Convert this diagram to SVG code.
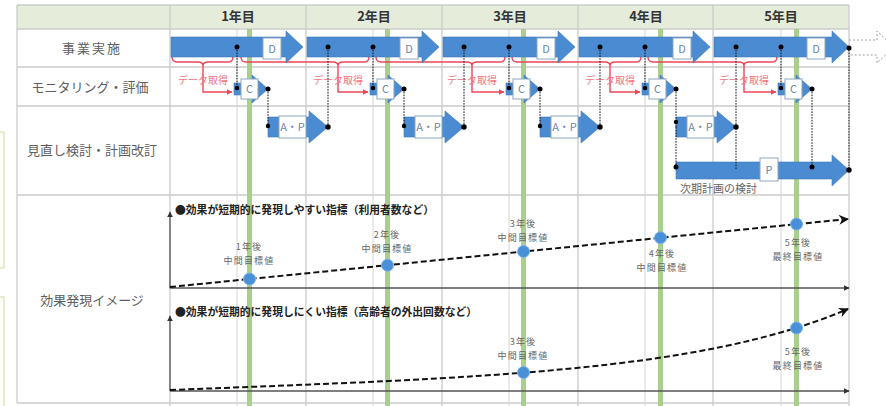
<svg xmlns="http://www.w3.org/2000/svg" width="886" height="406" viewBox="0 0 886 406">
<defs>
<style>
text{font-family:"Noto Sans CJK JP","Noto Sans",sans-serif}
.grid{stroke:#cccccc;stroke-width:1.3;fill:none}
.mid{stroke:#d6d6d6;stroke-width:1;fill:none}
.green{fill:#a9cf8c}
.blue{fill:#4a8bd1;stroke:#3f78b8;stroke-width:0.6}
.box{fill:#ffffff;stroke:#8ea6bf;stroke-width:1}
.blbl{font-size:11px;fill:#6f86a3;text-anchor:middle}
.row{font-size:13px;fill:#5e5e5e;text-anchor:middle}
.hdr{font-size:13px;font-weight:bold;fill:#333;text-anchor:middle}
.red{stroke:#ec4659;stroke-width:1.4;fill:none}
.redt{font-size:10px;fill:#f07383;text-anchor:middle}
.con{stroke:#111;stroke-width:1;stroke-dasharray:1.6 1.2;fill:none}
.dot{fill:#000}
.axis{stroke:#555;stroke-width:1.3;fill:none}
.dash{stroke:#111;stroke-width:2;stroke-dasharray:6 3;fill:none}
.pt{fill:#4a90d9;stroke:#7fb3e6;stroke-width:1}
.lbl{font-size:9px;fill:#666;text-anchor:middle;letter-spacing:1.2px}
.ttl{font-size:10.8px;font-weight:bold;fill:#222}
</style>
<marker id="ah" viewBox="0 0 10 10" refX="9" refY="5" markerWidth="10" markerHeight="10" markerUnits="userSpaceOnUse" orient="auto">
<path d="M0,0 L10,5 L0,10 L3,5 Z" fill="#111"/>
</marker>
<marker id="ax" viewBox="0 0 10 10" refX="9" refY="5" markerWidth="6" markerHeight="6" markerUnits="userSpaceOnUse" orient="auto">
<path d="M0,0 L10,5 L0,10 Z" fill="#333"/>
</marker>
<marker id="ra" viewBox="0 0 10 10" refX="9" refY="5" markerWidth="6" markerHeight="6" markerUnits="userSpaceOnUse" orient="auto">
<path d="M0,0 L10,5 L0,10 Z" fill="#ec4659"/>
</marker>
</defs>
<rect width="886" height="406" fill="#ffffff"/>
<rect x="-10" y="132" width="14" height="136" fill="#fdfdf6" stroke="#d7e2b4" stroke-width="1.2"/>
<rect x="-10" y="297" width="14" height="120" fill="#fdfdf6" stroke="#d7e2b4" stroke-width="1.2"/>
<g id="table">
<rect x="17" y="5" width="832" height="24" fill="#e5ecda"/>
<path class="mid" d="M237,29V406M373,29V406M509,29V406M645,29V406M781,29V406"/>
<path class="grid" d="M17,5H849M17,29H849M17,67H849M17,106H849M17,195H849M17,403H849"/>
<path class="grid" d="M17,5V403M170,5V406M306,5V406M442,5V406M578,5V406M713,5V406M849,5V406"/>
<text class="hdr" x="238" y="21">1年目</text>
<text class="hdr" x="374" y="21">2年目</text>
<text class="hdr" x="510" y="21">3年目</text>
<text class="hdr" x="646" y="21">4年目</text>
<text class="hdr" x="781" y="21">5年目</text>
<text class="row" x="92" y="53" letter-spacing="2">事業実施</text>
<text class="row" x="90" y="92">モニタリング・評価</text>
<text class="row" x="92" y="155">見直し検討・計画改訂</text>
<text class="row" x="92" y="305">効果発現イメージ</text>
</g>
<g id="greenbars">
<rect class="green" x="247" y="29" width="5" height="377"/>
<rect class="green" x="385" y="29" width="5" height="377"/>
<rect class="green" x="521" y="29" width="5" height="377"/>
<rect class="green" x="658" y="29" width="5" height="377"/>
<rect class="green" x="794" y="29" width="5" height="377"/>
</g>
<path d="M849,40H877V31L894,47L877,63V55H849" fill="none" stroke="#a0a0a0" stroke-width="1" stroke-dasharray="2 2"/>
<g id="data">
<path class="red" d="M172,57Q172,62 177,62H198Q203,62 203,66Q203,62 208,62H228Q233,62 233,57"/>
<path class="red" d="M203,66V92H232" marker-end="url(#ra)"/>
<text class="redt" x="203" y="84">データ取得</text>
<path class="red" d="M241,57Q241,62 246,62H333Q338,62 338,66Q338,62 343,62H364Q369,62 369,57"/>
<path class="red" d="M338,66V92H368" marker-end="url(#ra)"/>
<text class="redt" x="338" y="84">データ取得</text>
<path class="red" d="M376,57Q376,62 381,62H467Q472,62 472,66Q472,62 477,62H500Q505,62 505,57"/>
<path class="red" d="M472,66V92H504" marker-end="url(#ra)"/>
<text class="redt" x="472" y="84">データ取得</text>
<path class="red" d="M512,57Q512,62 517,62H605Q610,62 610,66Q610,62 615,62H636Q641,62 641,57"/>
<path class="red" d="M610,66V92H640" marker-end="url(#ra)"/>
<text class="redt" x="610" y="84">データ取得</text>
<path class="red" d="M648,57Q648,62 653,62H739Q744,62 744,66Q744,62 749,62H772Q777,62 777,57"/>
<path class="red" d="M744,66V92H776" marker-end="url(#ra)"/>
<text class="redt" x="744" y="84">データ取得</text>
</g>
<g id="D1"><path class="blue" d="M171,37H286V31L303,47L286,63V57H171Z"/><rect class="box" x="263" y="38" width="18" height="21"/><text class="blbl" x="272" y="53">D</text></g>
<g id="D2"><path class="blue" d="M307,37H422V31L439,47L422,63V57H307Z"/><rect class="box" x="400" y="38" width="18" height="21"/><text class="blbl" x="409" y="53">D</text></g>
<g id="D3"><path class="blue" d="M443,37H558V31L575,47L558,63V57H443Z"/><rect class="box" x="537" y="38" width="18" height="21"/><text class="blbl" x="546" y="53">D</text></g>
<g id="D4"><path class="blue" d="M579,37H693V31L710,47L693,63V57H579Z"/><rect class="box" x="673" y="38" width="18" height="21"/><text class="blbl" x="682" y="53">D</text></g>
<g id="D5"><path class="blue" d="M714,37H832V31L849,47L832,63V57H714Z"/><rect class="box" x="807" y="38" width="18" height="21"/><text class="blbl" x="816" y="53">D</text></g>
<g id="C1"><path class="blue" d="M234,83H252V75L268,89L252,103V95H234Z"/><rect class="box" x="241" y="79" width="17" height="20"/><text class="blbl" x="249.5" y="93">C</text></g>
<g id="C2"><path class="blue" d="M370,83H388V75L404,89L388,103V95H370Z"/><rect class="box" x="377" y="79" width="17" height="20"/><text class="blbl" x="385.5" y="93">C</text></g>
<g id="C3"><path class="blue" d="M506,83H524V75L540,89L524,103V95H506Z"/><rect class="box" x="513" y="79" width="17" height="20"/><text class="blbl" x="521.5" y="93">C</text></g>
<g id="C4"><path class="blue" d="M642,83H660V75L676,89L660,103V95H642Z"/><rect class="box" x="649" y="79" width="17" height="20"/><text class="blbl" x="657.5" y="93">C</text></g>
<g id="C5"><path class="blue" d="M778,83H796V75L812,89L796,103V95H778Z"/><rect class="box" x="785" y="79" width="17" height="20"/><text class="blbl" x="793.5" y="93">C</text></g>
<g id="AP1"><path class="blue" d="M268,117H309V111L328,127L309,143V137H268Z"/><rect class="box" x="279" y="116" width="27" height="22"/><text class="blbl" x="292.5" y="131" font-size="10">A・P</text></g>
<g id="AP2"><path class="blue" d="M404,117H445V111L464,127L445,143V137H404Z"/><rect class="box" x="415" y="116" width="27" height="22"/><text class="blbl" x="428.5" y="131" font-size="10">A・P</text></g>
<g id="AP3"><path class="blue" d="M540,117H581V111L600,127L581,143V137H540Z"/><rect class="box" x="551" y="116" width="27" height="22"/><text class="blbl" x="564.5" y="131" font-size="10">A・P</text></g>
<g id="AP4"><path class="blue" d="M676,117H717V111L736,127L717,143V137H676Z"/><rect class="box" x="687" y="116" width="27" height="22"/><text class="blbl" x="700.5" y="131" font-size="10">A・P</text></g>
<g id="P"><path class="blue" d="M676,162H832V155L849,170L832,186V179H676Z"/><rect class="box" x="760" y="158" width="18" height="23"/><text class="blbl" x="769" y="174">P</text>
<text x="680" y="193" font-size="11" fill="#666">次期計画の検討</text></g>
<g id="connectors">
<path class="con" d="M237,47V88M373,47V88M509,47V88M645,47V88M781,47V88"/>
<path class="con" d="M268,89V127M404,89V127M540,89V127M676,89V127M812,89V167"/>
<path class="con" d="M328,47V127M464,47V127M600,47V127M736,47V170M676,127V167M849,47V170"/>
<g class="dot">
<circle cx="237" cy="47" r="2.5"/><circle cx="328" cy="47" r="2.5"/><circle cx="373" cy="47" r="2.5"/><circle cx="464" cy="47" r="2.5"/><circle cx="509" cy="47" r="2.5"/><circle cx="600" cy="47" r="2.5"/><circle cx="645" cy="47" r="2.5"/><circle cx="736" cy="47" r="2.5"/><circle cx="781" cy="47" r="2.5"/><circle cx="849" cy="48" r="2.5"/>
<circle cx="237" cy="88" r="2.2"/><circle cx="373" cy="88" r="2.2"/><circle cx="509" cy="88" r="2.2"/><circle cx="645" cy="88" r="2.2"/><circle cx="781" cy="88" r="2.2"/>
<circle cx="268" cy="89" r="2.5"/><circle cx="404" cy="89" r="2.5"/><circle cx="540" cy="89" r="2.5"/><circle cx="676" cy="89" r="2.5"/><circle cx="812" cy="89" r="2.5"/>
<circle cx="268" cy="126" r="2.2"/><circle cx="404" cy="126" r="2.2"/><circle cx="540" cy="126" r="2.2"/><circle cx="676" cy="122" r="2.2"/>
<circle cx="328" cy="127" r="2.7"/><circle cx="464" cy="127" r="2.7"/><circle cx="600" cy="127" r="2.7"/><circle cx="736" cy="127" r="2.7"/>
<circle cx="676" cy="167" r="2.5"/><circle cx="812" cy="167" r="2.5"/><circle cx="849" cy="170" r="2.7"/>
</g>
</g>
<g id="chart-upper">
<path class="axis" d="M170,288V212" marker-end="url(#ax)"/>
<path class="axis" d="M170,288H849" marker-end="url(#ax)"/>
<text class="ttl" x="175" y="214">●効果が短期的に発現しやすい指標（利用者数など）</text>
<path class="dash" d="M170,287L848,219" marker-end="url(#ah)"/>
<circle class="pt" cx="249.5" cy="279" r="6"/>
<circle class="pt" cx="387.5" cy="265.2" r="6"/>
<circle class="pt" cx="523.5" cy="251.5" r="6"/>
<circle class="pt" cx="660.5" cy="237.8" r="6"/>
<circle class="pt" cx="796.5" cy="224.1" r="6"/>
<text class="lbl" x="249" y="250">1年後</text><text class="lbl" x="249" y="264">中間目標値</text>
<text class="lbl" x="387" y="238">2年後</text><text class="lbl" x="387" y="252">中間目標値</text>
<text class="lbl" x="523" y="227">3年後</text><text class="lbl" x="523" y="241">中間目標値</text>
<text class="lbl" x="662" y="257">4年後</text><text class="lbl" x="662" y="271">中間目標値</text>
<text class="lbl" x="798" y="246">5年後</text><text class="lbl" x="798" y="260">最終目標値</text>
</g>
<g id="chart-lower">
<path class="axis" d="M170,391V316" marker-end="url(#ax)"/>
<path class="axis" d="M170,391H849" marker-end="url(#ax)"/>
<text class="ttl" x="175" y="316">●効果が短期的に発現しにくい指標（高齢者の外出回数など）</text>
<path class="dash" d="M170,390C480,378 700,372 848,309" marker-end="url(#ah)"/>
<circle class="pt" cx="523.5" cy="372.6" r="6"/>
<circle class="pt" cx="796.5" cy="328" r="6"/>
<text class="lbl" x="523" y="345">3年後</text><text class="lbl" x="523" y="359">中間目標値</text>
<text class="lbl" x="798" y="355">5年後</text><text class="lbl" x="798" y="369">最終目標値</text>
</g>
</svg>
